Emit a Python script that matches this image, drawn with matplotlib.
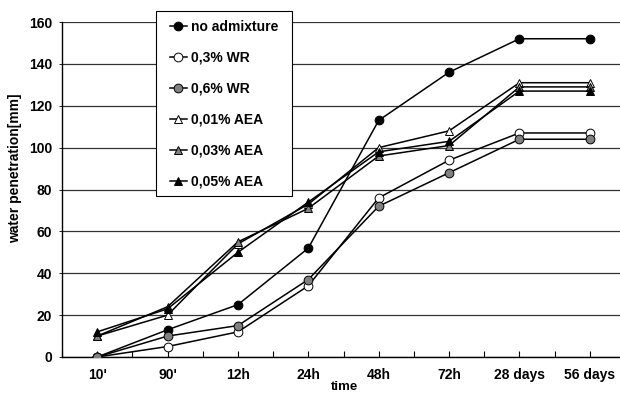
import matplotlib
matplotlib.use("Agg")
import matplotlib.pyplot as plt
from matplotlib.patches import Rectangle
import numpy as np

categories = ["10'", "90'", "12h", "24h", "48h", "72h", "28 days", "56 days"]
no_admixture = [0, 13, 25, 52, 113, 136, 152, 152]
wr_03 = [0, 5, 12, 34, 76, 94, 107, 107]
wr_06 = [0, 10, 15, 37, 72, 88, 104, 104]
aea_001 = [10, 20, 54, 73, 100, 108, 131, 131]
aea_003 = [10, 24, 55, 71, 96, 101, 129, 129]
aea_005 = [12, 23, 50, 74, 98, 103, 127, 127]

plt.rcParams['font.family'] = ['Liberation Sans', 'DejaVu Sans']
plt.rcParams['font.weight'] = 'bold'

fig = plt.figure(figsize=(6.2, 3.93), dpi=100)
W, H = 620, 393
ax = fig.add_axes([62 / W, (H - 357) / H, (625 - 62) / W, (357 - 22) / H])

x = np.arange(len(categories))
gray = '#808080'
series = [
    ("no admixture", no_admixture, 'o', 'black'),
    ("0,3% WR", wr_03, 'o', 'white'),
    ("0,6% WR", wr_06, 'o', gray),
    ("0,01% AEA", aea_001, '^', 'white'),
    ("0,03% AEA", aea_003, '^', gray),
    ("0,05% AEA", aea_005, '^', 'black'),
]
for label, vals, m, fc in series:
    ax.plot(x, vals, color='black', lw=1.1, marker=m, markersize=6.3,
            markerfacecolor=fc, markeredgecolor='black', markeredgewidth=0.7,
            label=label, zorder=3)

ax.set_xlim(-0.5, 7.5)
ax.set_ylim(0, 160)
ax.set_yticks(np.arange(0, 161, 20))
ax.set_xticks(x)
ax.set_xticklabels(categories)
ax.set_xticks(np.arange(-0.5, 7.6, 1.0), minor=True)
ax.tick_params(axis='x', which='both', direction='in', length=4, width=0.8, pad=8, labelsize=10)
ax.tick_params(axis='y', direction='out', length=2, width=0.6, labelsize=10, pad=5)
ax.yaxis.grid(True, color='#333333', lw=0.9)
ax.set_axisbelow(True)
for s in ['top', 'right']:
    ax.spines[s].set_visible(False)
ax.spines['left'].set_linewidth(1.0)
ax.spines['bottom'].set_linewidth(1.0)

fig.text(15 / W, 1 - 168 / H, "water penetration[mm]", rotation=90,
         ha='center', va='center', fontsize=10, fontweight='bold')
fig.text(345 / W, 1 - 381 / H, "time", ha='center', va='top',
         fontsize=9.5, fontweight='bold')

# legend box
box = Rectangle((156 / W, 1 - 196 / H), (292 - 156) / W, (196 - 11) / H,
                transform=fig.transFigure, facecolor='white', edgecolor='black',
                lw=0.8, zorder=4)
fig.patches.append(box)

leg = fig.legend(loc='upper left', bbox_to_anchor=(170 / W, 1 - 20 / H),
                 borderaxespad=0, fontsize=10, labelspacing=1.22,
                 handlelength=1.22, handletextpad=0.3, borderpad=0,
                 frameon=False)
leg.set_zorder(5)
for t in leg.get_texts():
    t.set_fontweight('bold')

fig.savefig("out.png", dpi=100)
